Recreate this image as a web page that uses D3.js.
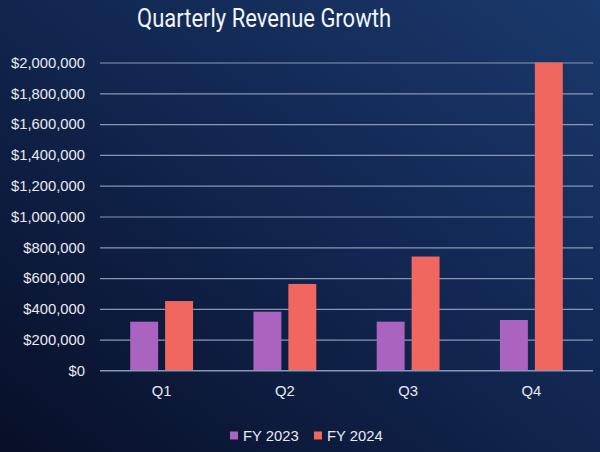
<!DOCTYPE html>
<html><head><meta charset="utf-8">
<script src="https://cdn.jsdelivr.net/npm/d3@7"></script>
<style>html,body{margin:0;padding:0;background:#0f1f40;}svg{display:block;}</style>
</head><body>
<script>
const categories = ["Q1", "Q2", "Q3", "Q4"];
const seriesNames = ["FY 2023", "FY 2024"];
const fy2023 = [317000, 382000, 317000, 328000];
const fy2024 = [451000, 562000, 740000, 2000000];
const yTicks = [0, 200000, 400000, 600000, 800000, 1000000, 1200000, 1400000, 1600000, 1800000, 2000000];
const colors = ["#aa63c1", "#ef675f"];

const W = 600, H = 452;
const svg = d3.select("body").append("svg").attr("width", W).attr("height", H);
const defs = svg.append("defs");
const g = defs.append("linearGradient").attr("id", "bg").attr("x1", "0%").attr("y1", "100%").attr("x2", "100%").attr("y2", "0%");
g.append("stop").attr("offset", "0%").attr("stop-color", "#080f27");
g.append("stop").attr("offset", "50%").attr("stop-color", "#11254f");
g.append("stop").attr("offset", "100%").attr("stop-color", "#1a396c");
svg.append("rect").attr("width", W).attr("height", H).attr("fill", "url(#bg)");

const x0 = d3.scaleBand().domain(categories).range([100, 593]).paddingInner(0.49).paddingOuter(0.245);
const x1 = d3.scaleBand().domain(seriesNames).range([0, x0.bandwidth()]).paddingInner(0.2);
const y = d3.scaleLinear().domain([0, 2000000]).range([370.5, 62.5]);

const font = "'Liberation Sans', Arial, sans-serif";

// gridlines
const yAxis = d3.axisLeft(y).tickValues(yTicks).tickSize(-(593 - 100)).tickPadding(15)
  .tickFormat(d => "$" + d3.format(",")(d));
const ya = svg.append("g").attr("transform", "translate(100,0)").call(yAxis);
ya.select(".domain").remove();
ya.selectAll(".tick line").attr("stroke", "#8797b5").attr("stroke-width", 1.2);
ya.selectAll(".tick text").attr("fill", "#e8eaf0").attr("font-family", font).attr("font-size", 14.8).attr("x", -15);

// bars
const data = categories.map((c, i) => ({cat: c, vals: [fy2023[i], fy2024[i]]}));
const groups = svg.append("g").selectAll("g").data(data).join("g")
  .attr("transform", d => `translate(${x0(d.cat)},0)`);
groups.selectAll("rect").data(d => d.vals.map((v, j) => ({name: seriesNames[j], v, j})))
  .join("rect")
  .attr("x", d => x1(d.name)).attr("width", x1.bandwidth())
  .attr("y", d => y(d.v)).attr("height", d => y(0) - y(d.v))
  .attr("fill", d => colors[d.j]);

// x axis
const xAxis = d3.axisBottom(x0).tickSize(0).tickPadding(15);
const xa = svg.append("g").attr("transform", "translate(0,370.5)").call(xAxis);
xa.select(".domain").remove();
xa.selectAll(".tick text").attr("fill", "#e8eaf0").attr("font-family", font).attr("font-size", 14.8);
svg.append("line").attr("x1", 100).attr("x2", 593).attr("y1", y(0)).attr("y2", y(0)).attr("stroke", "#8797b5").attr("stroke-width", 1.2);

// title
svg.append("text").attr("x", 264).attr("y", 27).attr("text-anchor", "middle")
  .attr("fill", "#f2f4f8").attr("font-family", "Roboto, 'Noto Sans', sans-serif").attr("font-size", 25.5)
  .attr("textLength", 254).attr("lengthAdjust", "spacingAndGlyphs")
  .text("Quarterly Revenue Growth");

// legend
const legX = [230, 314];
const leg = svg.append("g").selectAll("g").data(seriesNames).join("g")
  .attr("transform", (d, i) => `translate(${legX[i]},431.5)`);
leg.append("rect").attr("width", 8).attr("height", 8).attr("fill", (d, i) => colors[i]);
leg.append("text").attr("x", 13).attr("y", 9).attr("fill", "#e8eaf0").attr("font-family", font).attr("font-size", 14.8).text(d => d);
</script>
</body></html>
